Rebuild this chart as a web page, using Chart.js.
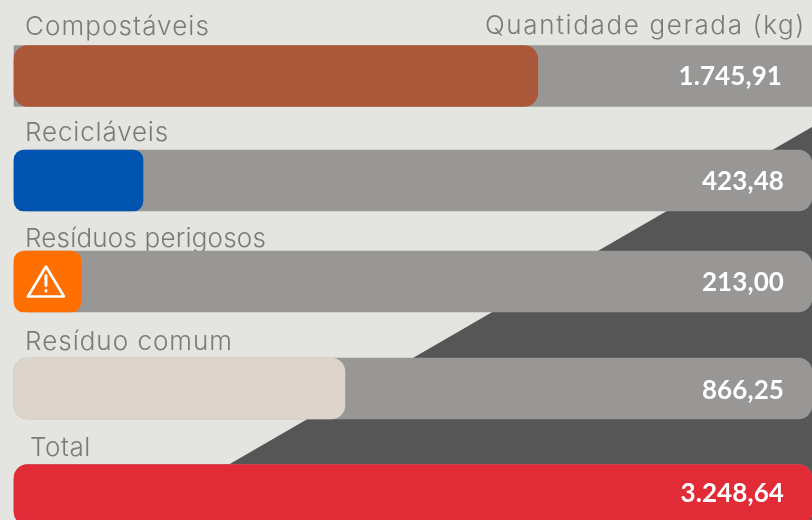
<!DOCTYPE html>
<html>
<head>
<meta charset="utf-8">
<style>
    html, body { margin: 0; padding: 0; background: #E4E5E1; overflow: hidden; }
    canvas { display: block; }
</style>
<script src="https://cdn.jsdelivr.net/npm/chart.js@4"></script>
</head>
<body>
<canvas id="residuos" width="812" height="520"></canvas>
<script>
const categorias = ["Compostáveis", "Recicláveis", "Resíduos perigosos", "Resíduo comum", "Total"];
const rotulos = ["1.745,91", "423,48", "213,00", "866,25", "3.248,64"];
// comprimento das barras (kg na escala do eixo)
const barras = [1746, 430, 223, 1103, 2660];
const trilho = [2660, 2660, 2660, 2660, 2660];
const cabecalho = "Quantidade gerada (kg)";

const cores = ["#AA573A", "#0054B0", "#FF7000", "#DDD5CC", "#E12C38"];
const raioBarra = [14, 10, 10, 14, 14];
const raioTrilho = [0, 14, 14, 14, 14];
const ajusteLinha = [0, -0.25, -4, -1.75, 0];
const ajusteRotulo = [1, 1.5, 1.5, 2.5, -1.5];
const distTexto = [11, 9, 4, 8, 9];
const xTexto = [25, 25, 25, 25, 30];
const larguraTexto = [185, 144, 241, 208, 61];
const larguraCabecalho = 321;

// categorias com pequeno ajuste vertical por linha
class LinhaScale extends Chart.CategoryScale {
    getPixelForValue(value, index) {
        let px = super.getPixelForValue(value, index);
        let i = typeof value === "number" ? value : this.parse(value);
        return px + (ajusteLinha[i] || 0);
    }
}
LinhaScale.id = "linha";
LinhaScale.defaults = Chart.CategoryScale.defaults;
Chart.register(LinhaScale);

// espaca as letras ate o texto ocupar a largura pedida
function espacar(ctx, txt, largura) {
    ctx.letterSpacing = "0px";
    let sobra = largura - ctx.measureText(txt).width;
    ctx.letterSpacing = (sobra / txt.length) + "px";
}

const fundo = {
    id: "fundo",
    beforeDraw(chart) {
        const ctx = chart.ctx;
        ctx.save();
        ctx.fillStyle = "#565656";
        ctx.beginPath();
        ctx.moveTo(812, 127);
        ctx.lineTo(812, 520);
        ctx.lineTo(0, 520);
        ctx.lineTo(0, 597);
        ctx.closePath();
        ctx.fill();
        ctx.restore();
    },
    beforeDatasetsDraw(chart) {
        const ctx = chart.ctx;
        const meta = chart.getDatasetMeta(1);
        ctx.save();
        ctx.fillStyle = "#7A7A78";
        ctx.font = "300 26px Inter";
        ctx.textBaseline = "alphabetic";
        categorias.forEach((nome, i) => {
            let topo = meta.data[i].y - 30.5;
            espacar(ctx, nome, larguraTexto[i]);
            ctx.fillText(nome, xTexto[i], topo - distTexto[i]);
        });
        espacar(ctx, cabecalho, larguraCabecalho);
        ctx.textAlign = "right";
        ctx.fillText(cabecalho, 806, 34);
        ctx.restore();
    },
    afterDatasetsDraw(chart) {
        const ctx = chart.ctx;
        const meta = chart.getDatasetMeta(1);
        ctx.save();
        ctx.fillStyle = "#FFFFFF";
        ctx.font = "bold 26px Lato";
        ctx.letterSpacing = "0.1px";
        ctx.textAlign = "right";
        ctx.textBaseline = "middle";
        rotulos.forEach((txt, i) => {
            ctx.fillText(txt, i === 0 ? 782 : 784, meta.data[i].y + ajusteRotulo[i]);
        });

        // icone de perigo na barra laranja
        const b = meta.data[2];
        const cx = (b.base + b.x) / 2 - 1.5;
        const cy = b.y;
        ctx.strokeStyle = "#FFFFFF";
        ctx.lineWidth = 2.6;
        ctx.lineJoin = "round";
        ctx.lineCap = "round";
        ctx.beginPath();
        ctx.moveTo(cx, cy - 15);
        ctx.lineTo(cx + 18, cy + 15);
        ctx.lineTo(cx - 18, cy + 15);
        ctx.closePath();
        ctx.stroke();
        ctx.lineWidth = 3;
        ctx.beginPath();
        ctx.moveTo(cx, cy - 6);
        ctx.lineTo(cx, cy + 4);
        ctx.moveTo(cx, cy + 9);
        ctx.lineTo(cx, cy + 9.5);
        ctx.stroke();
        ctx.restore();
    }
};

new Chart(document.getElementById("residuos"), {
    type: "bar",
    plugins: [fundo],
    data: {
        labels: categorias,
        datasets: [
            {
                data: trilho,
                backgroundColor: "#989795",
                borderRadius: ctx => raioTrilho[ctx.dataIndex],
                borderSkipped: false,
                barThickness: 61,
                grouped: false,
                order: 2,
                clip: false
            },
            {
                data: barras,
                backgroundColor: cores,
                borderRadius: ctx => raioBarra[ctx.dataIndex],
                borderSkipped: false,
                barThickness: 61,
                grouped: false,
                order: 1,
                clip: false
            }
        ]
    },
    options: {
        indexAxis: "y",
        responsive: false,
        animation: false,
        layout: { padding: { left: 14, right: 0, top: 76, bottom: 25 } },
        plugins: { legend: { display: false }, tooltip: { enabled: false } },
        scales: {
            x: { type: "linear", display: false, min: 0, max: 2660 },
            y: { type: "linha", display: false, offset: false, grid: { offset: false } }
        }
    }
});
</script>
</body>
</html>
